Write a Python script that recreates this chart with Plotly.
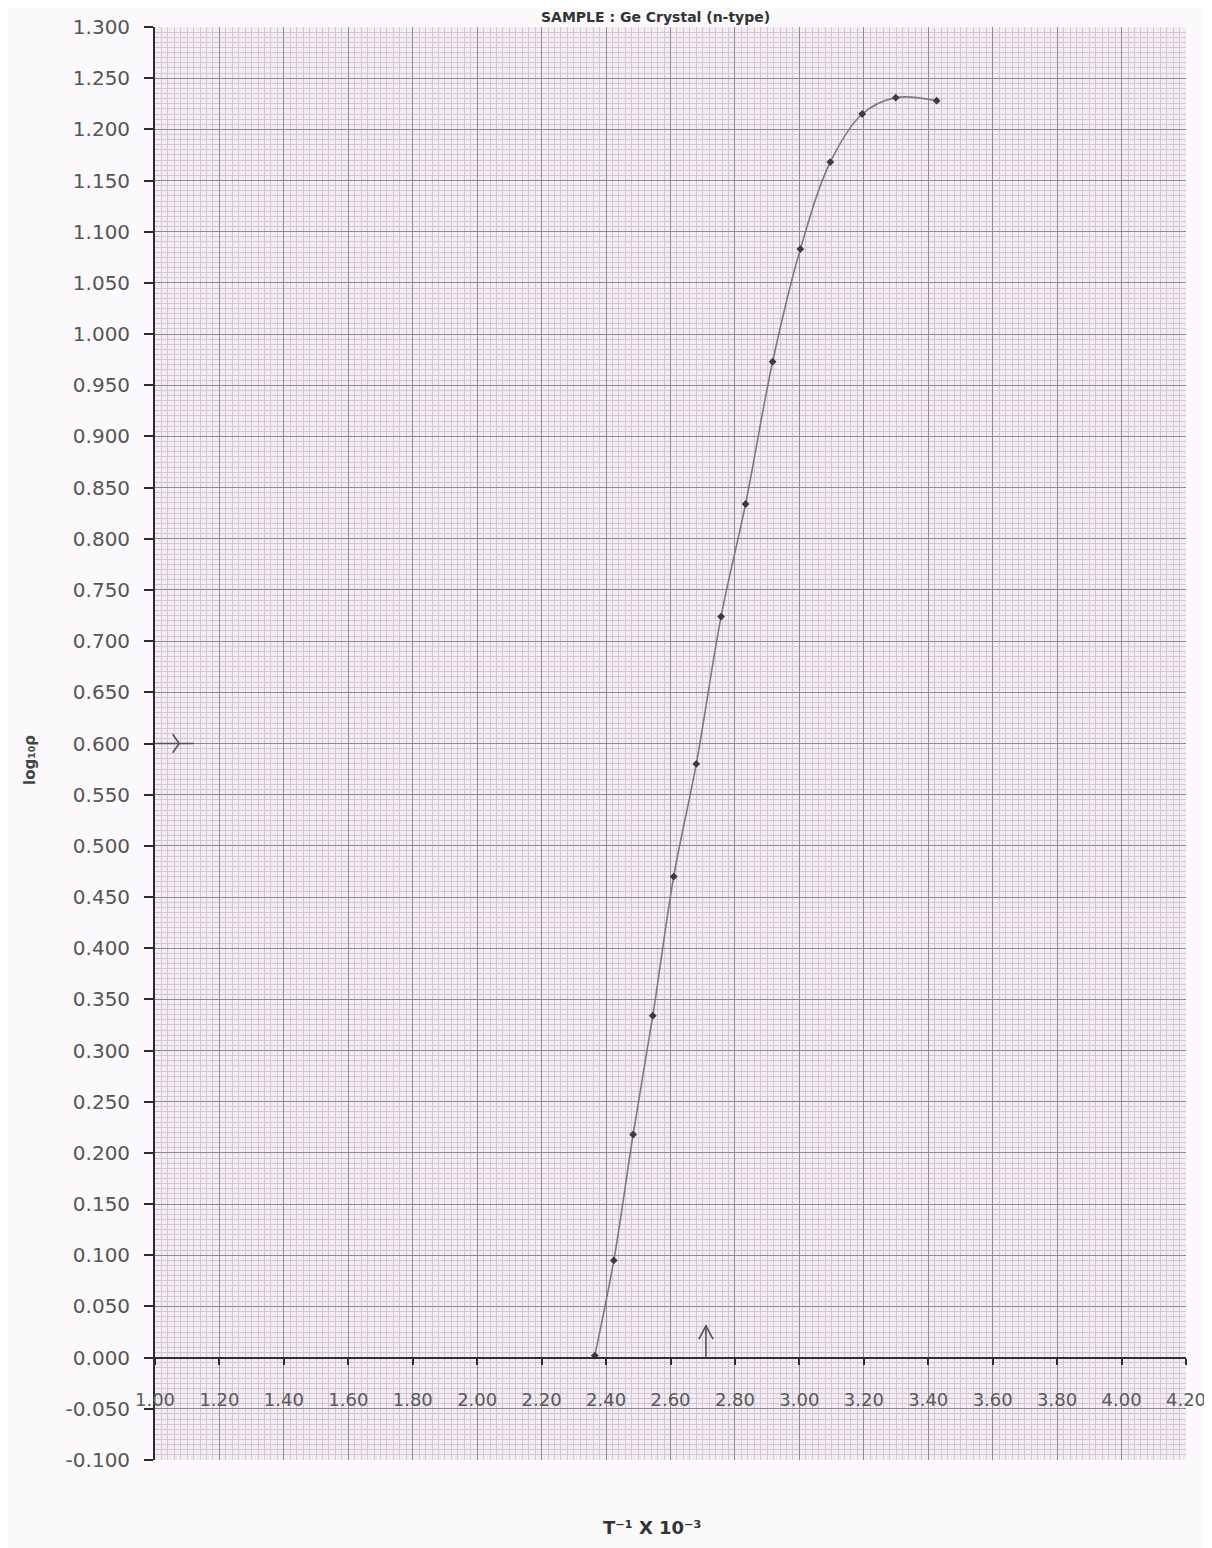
import plotly.graph_objects as go

# ---- data ----
inv_T = [2.365, 2.424, 2.484, 2.545, 2.610, 2.680, 2.757, 2.833, 2.917, 3.003, 3.096, 3.195, 3.299, 3.426]
log_rho = [0.002, 0.095, 0.218, 0.334, 0.470, 0.580, 0.724, 0.834, 0.973, 1.083, 1.168, 1.215, 1.231, 1.228]

x_tick_labels = ["1.00", "1.20", "1.40", "1.60", "1.80", "2.00", "2.20", "2.40", "2.60",
                 "2.80", "3.00", "3.20", "3.40", "3.60", "3.80", "4.00", "4.20"]
y_tick_labels = ["-0.100", "-0.050", "0.000", "0.050", "0.100", "0.150", "0.200", "0.250",
                 "0.300", "0.350", "0.400", "0.450", "0.500", "0.550", "0.600", "0.650",
                 "0.700", "0.750", "0.800", "0.850", "0.900", "0.950", "1.000", "1.050",
                 "1.100", "1.150", "1.200", "1.250", "1.300"]

# hand-drawn reading marks on the axes
mark_y = 0.600
mark_x = 2.71

title_text = "<b>SAMPLE : Ge Crystal (n-type)</b>"
x_title = "<b>T⁻¹ X 10⁻³</b>"
y_title = "<b>log₁₀ρ</b>"

x_vals = [float(s) for s in x_tick_labels]
y_vals = [float(s) for s in y_tick_labels]
x_range = [x_vals[0], x_vals[-1]]
y_range = [y_vals[0], y_vals[-1]]

FONT = "DejaVu Sans"
OFF = 8  # page body margin
W, H = 1212 - OFF, 1548 - OFF
ML, MR, MT, MB = 155 - OFF, 26, 27 - OFF, 88
PW, PH = W - ML - MR, H - MT - MB


def py(page_y):
    # page pixel y -> paper fraction
    return (H - MB - (page_y - OFF)) / PH


def px(page_x):
    return ((page_x - OFF) - ML) / PW


fig = go.Figure()

fig.add_trace(go.Scatter(
    x=inv_T, y=log_rho, mode="lines+markers",
    line=dict(color="#7e787f", width=1.6, shape="spline", smoothing=1.0),
    marker=dict(symbol="diamond", size=6, color="#3d3a3d"),
    showlegend=False, hoverinfo="x+y",
))

# reading marks (arrows)
mark_col = "#555055"
fig.add_shape(type="line", x0=x_range[0], x1=x_range[0] + 0.12, y0=mark_y, y1=mark_y,
              line=dict(color=mark_col, width=1.6))
fig.add_shape(type="path",
              path=f"M {x_range[0]+0.055},{mark_y+0.009} L {x_range[0]+0.075},{mark_y} L {x_range[0]+0.055},{mark_y-0.009}",
              line=dict(color=mark_col, width=1.6))
fig.add_shape(type="line", x0=mark_x, x1=mark_x, y0=0, y1=0.032,
              line=dict(color=mark_col, width=1.6))
fig.add_shape(type="path",
              path=f"M {mark_x-0.022},{0.018} L {mark_x},{0.031} L {mark_x+0.022},{0.018}",
              line=dict(color=mark_col, width=1.6))

zero_pos = (0 - y_range[0]) / (y_range[1] - y_range[0])

fig.update_layout(
    width=W, height=H,
    margin=dict(l=ML, r=MR, t=MT, b=MB, autoexpand=False),
    paper_bgcolor="#fbf9fb",
    plot_bgcolor="#f3edf3",
    font=dict(family=FONT, color="#555555"),
    xaxis=dict(
        range=x_range, tickvals=x_vals, ticktext=x_tick_labels,
        anchor="free", position=zero_pos, automargin=False,
        showline=True, linecolor="#2e2c2e", linewidth=2.2,
        ticks="outside", ticklen=6, tickwidth=1.6, tickcolor="#2e2c2e",
        ticklabelstandoff=20,
        tickfont=dict(size=18, color="#5a5a5a", family=FONT),
        showgrid=True, gridcolor="#928a97", gridwidth=1,
        minor=dict(dtick=0.02, showgrid=True, gridcolor="#d2c8d3", gridwidth=1),
        zeroline=False, fixedrange=True,
    ),
    yaxis=dict(
        range=y_range, tickvals=y_vals, ticktext=y_tick_labels, automargin=False,
        showline=True, linecolor="#2e2c2e", linewidth=1.8,
        ticks="outside", ticklen=9, tickwidth=1.6, tickcolor="#2e2c2e",
        ticklabelstandoff=10,
        tickfont=dict(size=20, color="#555555", family=FONT),
        showgrid=True, gridcolor="#8f8794", gridwidth=1,
        minor=dict(dtick=0.005, showgrid=True, gridcolor="#d2c8d3", gridwidth=1),
        zeroline=False, fixedrange=True,
    ),
    annotations=[
        dict(text=title_text, xref="paper", yref="paper", x=px(655), y=py(17),
             xanchor="center", yanchor="middle", showarrow=False,
             font=dict(size=14, color="#333333", family=FONT)),
        dict(text=x_title, xref="paper", yref="paper", x=px(652), y=py(1527),
             xanchor="center", yanchor="middle", showarrow=False,
             font=dict(size=18, color="#333333", family=FONT)),
        dict(text=y_title, xref="paper", yref="paper", x=px(30), y=py(760),
             xanchor="center", yanchor="middle", showarrow=False, textangle=-90,
             font=dict(size=15, color="#444444", family=FONT)),
    ],
)

fig.write_html("out.html")
